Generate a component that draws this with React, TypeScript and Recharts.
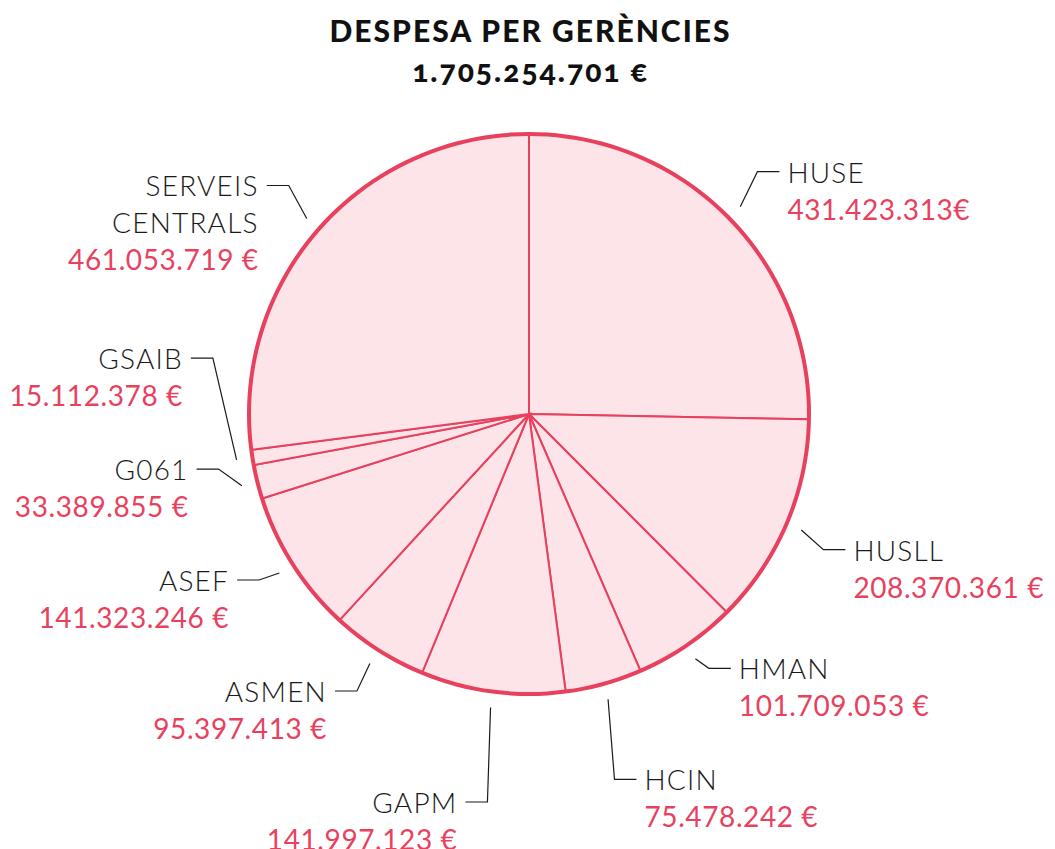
import React from "react";
import { PieChart, Pie, Cell } from "recharts";

// ---- data ----
const CATEGORIES = ["HUSE", "HUSLL", "HMAN", "HCIN", "GAPM", "ASMEN", "ASEF", "G061", "GSAIB", "SERVEIS CENTRALS"];
const VALUES = [431423313, 208370361, 101709053, 75478242, 141997123, 95397413, 141323246, 33389855, 15112378, 461053719];
const VALUE_LABELS = [
  "431.423.313€",
  "208.370.361 €",
  "101.709.053 €",
  "75.478.242 €",
  "141.997.123 €",
  "95.397.413 €",
  "141.323.246 €",
  "33.389.855 €",
  "15.112.378 €",
  "461.053.719 €",
];
const TITLE = "DESPESA PER GERÈNCIES";
const TOTAL_LABEL = "1.705.254.701 €";

// ---- style / layout ----
const W = 1055;
const H = 849;
const CX = 529;
const CY = 414;
const R = 280;
const PINK = "#e8415e";
const FILL = "#fce4e9";
const LINE_H = 37;
const MAX_Y = 802;
const MIN_Y = 120;
const FONT = "Lato, 'Open Sans', sans-serif";

const data = CATEGORIES.map((name, i) => ({ name, value: VALUES[i] }));

type LabelPos = { theta: number; y: number; side: number; lines: string[] };

function computeLayout(): LabelPos[] {
  const total = VALUES.reduce((a, b) => a + b, 0);
  let acc = 0;
  const items: LabelPos[] = VALUES.map((v, i) => {
    const start = (acc / total) * 360;
    acc += v;
    const end = (acc / total) * 360;
    const theta = (start + end) / 2;
    const rad = (theta * Math.PI) / 180;
    const name = CATEGORIES[i];
    const lines = name.length > 10 ? name.split(" ") : [name];
    return { theta, y: CY - (R + 66) * Math.cos(rad), side: theta < 180 ? 1 : -1, lines };
  });
  for (const side of [1, -1]) {
    const group = items.filter((d) => d.side === side).sort((a, b) => a.y - b.y);
    for (let it = 0; it < 500; it++) {
      let moved = false;
      for (let k = 0; k < group.length - 1; k++) {
        const a = group[k];
        const b = group[k + 1];
        const need = a.lines.length * LINE_H + 74;
        const gap = b.y - a.y;
        if (gap < need - 0.01) {
          const d = (need - gap) / 2;
          a.y -= d;
          b.y += d;
          moved = true;
        }
      }
      const last = group[group.length - 1];
      if (last && last.y > MAX_Y) {
        last.y = MAX_Y;
        moved = true;
      }
      const first = group[0];
      if (first && first.y < MIN_Y) {
        first.y = MIN_Y;
        moved = true;
      }
      if (!moved) break;
    }
  }
  return items;
}

const LAYOUT = computeLayout();

const renderLabel = (props: any) => {
  let idx = props.index;
  if (idx === undefined || idx === null) idx = CATEGORIES.indexOf(props.name);
  const lay = LAYOUT[idx];
  if (!lay) return null;
  const cx = props.cx ?? CX;
  const cy = props.cy ?? CY;
  const r = props.outerRadius ?? R;
  const rad = (lay.theta * Math.PI) / 180;
  const sx = cx + (r + 16) * Math.sin(rad);
  const sy = cy - (r + 16) * Math.cos(rad);
  const ex = cx + (r + 40) * Math.sin(rad);
  const ey = lay.y;
  const hx = ex + lay.side * 22;
  const tx = hx + lay.side * 8;
  const anchor = lay.side > 0 ? "start" : "end";
  return (
    <g key={"lbl" + idx}>
      <polyline
        points={`${sx},${sy} ${ex},${ey} ${hx},${ey}`}
        fill="none"
        stroke="#1a1a1a"
        strokeWidth={1.2}
      />
      {lay.lines.map((ln, j) => (
        <text
          key={j}
          x={tx}
          y={ey + j * LINE_H}
          textAnchor={anchor}
          dominantBaseline="central"
          fontFamily={FONT}
          fontWeight={300}
          fontSize={28}
          letterSpacing={1.2}
          fill="#1a1a1a"
        >
          {ln}
        </text>
      ))}
      <text
        x={tx}
        y={ey + lay.lines.length * LINE_H}
        textAnchor={anchor}
        dominantBaseline="central"
        fontFamily={FONT}
        fontWeight={400}
        fontSize={28}
        letterSpacing={0.6}
        fill={PINK}
      >
        {VALUE_LABELS[idx]}
      </text>
    </g>
  );
};

export default function App() {
  return (
    <div style={{ position: "absolute", left: 0, top: 0, width: W, height: H, background: "#fff", overflow: "hidden" }}>
      <div
        style={{
          position: "absolute",
          left: 0,
          width: W,
          top: 10,
          textAlign: "center",
          fontFamily: FONT,
          fontWeight: 900,
          fontSize: 30,
          letterSpacing: 2,
          lineHeight: "40px",
          color: "#111",
          paddingLeft: 6,
          boxSizing: "border-box",
        }}
      >
        <div>{TITLE}</div>
        <div style={{ fontVariantNumeric: "oldstyle-nums" }}>{TOTAL_LABEL}</div>
      </div>
      <div style={{ position: "absolute", left: 0, top: 0 }}>
        <PieChart width={W} height={H} margin={{ top: 0, right: 0, bottom: 0, left: 0 }}>
          <Pie
            data={data}
            dataKey="value"
            nameKey="name"
            cx={CX}
            cy={CY}
            outerRadius={R}
            startAngle={90}
            endAngle={-270}
            stroke={PINK}
            strokeWidth={2}
            fill={FILL}
            label={renderLabel}
            labelLine={false}
            isAnimationActive={false}
          >
            {data.map((d) => (
              <Cell key={d.name} fill={FILL} stroke={PINK} />
            ))}
          </Pie>
          <Pie
            data={[{ name: "ring", value: 1 }]}
            dataKey="value"
            cx={CX}
            cy={CY}
            innerRadius={R - 2}
            outerRadius={R + 2}
            startAngle={90}
            endAngle={-270}
            stroke="none"
            fill={PINK}
            isAnimationActive={false}
          />
        </PieChart>
      </div>
    </div>
  );
}
